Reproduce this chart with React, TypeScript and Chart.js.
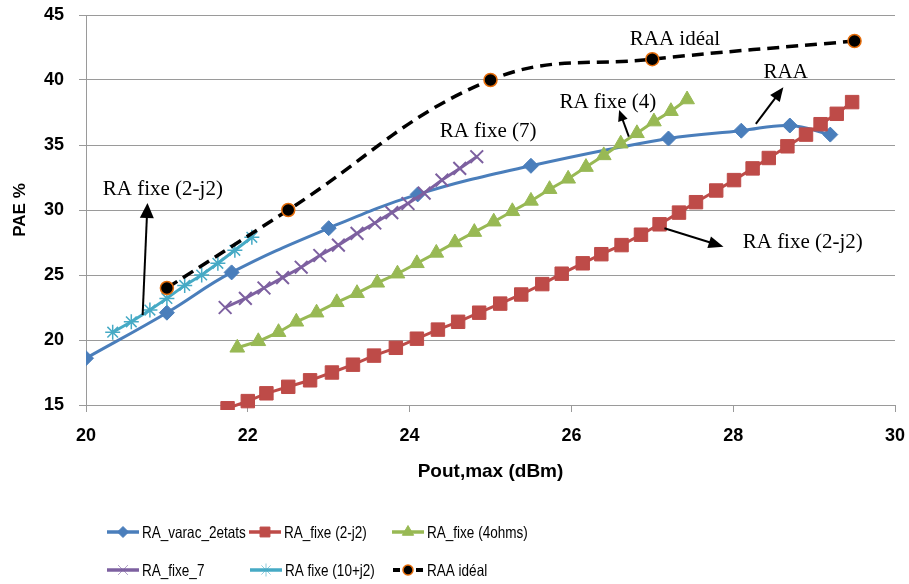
import React, { useEffect, useRef } from 'react';
import { Chart, registerables } from 'chart.js';
import { drawPoint } from 'chart.js/helpers';
Chart.register(...registerables);

// ---------- data ----------
const varacX = [20, 21, 21.8, 23, 24.1, 25.5, 27.2, 28.1, 28.7, 29.2];
const varacY = [18.6, 22.1, 25.2, 28.6, 31.2, 33.4, 35.5, 36.1, 36.5, 35.8];

const fixe2j2X = [21.75, 22.0, 22.23, 22.5, 22.77, 23.04, 23.3, 23.56, 23.83, 24.09, 24.35, 24.6, 24.86, 25.12, 25.38, 25.64, 25.88, 26.14, 26.37, 26.62, 26.86, 27.09, 27.33, 27.54, 27.79, 28.01, 28.24, 28.44, 28.67, 28.9, 29.08, 29.28, 29.47];
const fixe2j2Y = [14.75, 15.3, 15.9, 16.4, 16.9, 17.5, 18.1, 18.8, 19.4, 20.1, 20.8, 21.4, 22.1, 22.8, 23.5, 24.3, 25.1, 25.9, 26.6, 27.3, 28.1, 28.9, 29.8, 30.6, 31.5, 32.3, 33.2, 34.0, 34.9, 35.8, 36.6, 37.4, 38.3];

const fixe4X = [21.87, 22.13, 22.38, 22.6, 22.85, 23.1, 23.35, 23.6, 23.85, 24.09, 24.33, 24.56, 24.8, 25.04, 25.27, 25.5, 25.73, 25.96, 26.18, 26.4, 26.61, 26.81, 27.02, 27.23, 27.43];
const fixe4Y = [19.4, 19.9, 20.6, 21.4, 22.1, 22.9, 23.6, 24.4, 25.1, 25.9, 26.7, 27.5, 28.3, 29.1, 29.9, 30.7, 31.6, 32.4, 33.3, 34.2, 35.1, 35.9, 36.8, 37.6, 38.5];

const fixe7X = [21.72, 21.97, 22.2, 22.43, 22.66, 22.89, 23.12, 23.35, 23.57, 23.78, 23.98, 24.18, 24.4, 24.62, 24.83];
const fixe7Y = [22.5, 23.2, 24.0, 24.8, 25.6, 26.5, 27.3, 28.2, 29.0, 29.8, 30.5, 31.3, 32.3, 33.2, 34.1];

const fixe10X = [20.33, 20.56, 20.79, 21.0, 21.22, 21.43, 21.63, 21.84, 22.05];
const fixe10Y = [20.6, 21.4, 22.3, 23.2, 24.2, 25.0, 25.9, 26.9, 27.9];

const idealX = [21, 22.5, 25, 27, 29.5];
const idealY = [24.0, 30.0, 40.0, 41.6, 43.0];

const seriesLabels = ['RA_varac_2etats', 'RA_fixe (2-j2)', 'RA_fixe (4ohms)', 'RA_fixe_7', 'RA fixe (10+j2)', 'RAA idéal'];

const xTicksMin = 20, xTicksMax = 30, xStep = 2;
const yTicksMin = 15, yTicksMax = 45, yStep = 5;
const xTitle = 'Pout,max (dBm)';
const yTitle = 'PAE %';

// annotations (data coordinates)
const noteTexts = ['RAA idéal', 'RAA', 'RA fixe (4)', 'RA fixe (7)', 'RA fixe (2-j2)', 'RA fixe (2-j2)'];
const noteX = [27.28, 28.65, 26.45, 24.97, 20.95, 28.86];
const noteY = [42.69, 40.15, 37.85, 35.6, 31.15, 27.08];
const arrowFromX = [20.70, 26.71, 28.28, 27.15];
const arrowFromY = [21.92, 35.64, 36.62, 28.59];
const arrowToX = [20.76, 26.59, 28.62, 27.88];
const arrowToY = [30.54, 37.69, 39.44, 27.18];

// ---------- styles ----------
const BLUE = '#4A7EBB';
const RED = '#BE4B48';
const GREEN = '#98B954';
const PURPLE = '#7D60A0';
const CYAN = '#46AAC5';
const BLACK = '#000000';
const ORANGE = '#E46C0A';
const GRID = '#9A9A9A';
const HEAD_LEN = [15, 11, 14, 15];
const HEAD_W = [14, 10, 12, 12];

const legendPos = [
  { x: 107, y: 532 }, { x: 249, y: 532 }, { x: 392, y: 532 },
  { x: 107, y: 570 }, { x: 250, y: 570 }, { x: 392, y: 570 },
];
const legendMarkerR = [5.5, 7, 6.5, 7, 6.5, 5];

const mk = (xs: number[], ys: number[]) => xs.map((x, i) => ({ x, y: ys[i] }));

const overlayPlugin = {
  id: 'overlay',
  afterDatasetsDraw(chart: any) {
    const ctx = chart.ctx as CanvasRenderingContext2D;
    const xs = chart.scales.x;
    const ys = chart.scales.y;
    ctx.save();
    ctx.fillStyle = '#000';
    ctx.font = '21px "Liberation Serif", "Times New Roman", serif';
    ctx.textAlign = 'center';
    ctx.textBaseline = 'alphabetic';
    noteTexts.forEach((t, i) => {
      ctx.fillText(t, xs.getPixelForValue(noteX[i]), ys.getPixelForValue(noteY[i]));
    });
    arrowFromX.forEach((_, i) => {
      const x1 = xs.getPixelForValue(arrowFromX[i]);
      const y1 = ys.getPixelForValue(arrowFromY[i]);
      const x2 = xs.getPixelForValue(arrowToX[i]);
      const y2 = ys.getPixelForValue(arrowToY[i]);
      const ang = Math.atan2(y2 - y1, x2 - x1);
      const hl = HEAD_LEN[i];
      const hw = HEAD_W[i] / 2;
      const bx = x2 - Math.cos(ang) * hl;
      const by = y2 - Math.sin(ang) * hl;
      ctx.strokeStyle = '#000';
      ctx.lineWidth = 2;
      ctx.beginPath();
      ctx.moveTo(x1, y1);
      ctx.lineTo(bx + Math.cos(ang) * 2, by + Math.sin(ang) * 2);
      ctx.stroke();
      ctx.beginPath();
      ctx.moveTo(x2, y2);
      ctx.lineTo(bx + Math.sin(ang) * hw, by - Math.cos(ang) * hw);
      ctx.lineTo(bx - Math.sin(ang) * hw, by + Math.cos(ang) * hw);
      ctx.closePath();
      ctx.fillStyle = '#000';
      ctx.fill();
    });
    ctx.restore();
  },
  afterDraw(chart: any) {
    const ctx = chart.ctx as CanvasRenderingContext2D;
    ctx.save();
    chart.data.datasets.forEach((ds: any, i: number) => {
      const p = legendPos[i];
      const x1 = p.x, x2 = p.x + 32, y = p.y;
      ctx.save();
      ctx.strokeStyle = ds.borderColor;
      ctx.lineWidth = ds.borderWidth + 0.5;
      ctx.beginPath();
      if (ds.borderDash) {
        ctx.moveTo(x1 + 1, y); ctx.lineTo(x1 + 8, y);
        ctx.moveTo(x2 - 8, y); ctx.lineTo(x2 - 1, y);
      } else {
        ctx.moveTo(x1, y); ctx.lineTo(x2, y);
      }
      ctx.stroke();
      ctx.restore();
      ctx.save();
      ctx.fillStyle = ds.pointBackgroundColor || ds.backgroundColor;
      ctx.strokeStyle = ds.pointBorderColor || ds.borderColor;
      const isLine = ds.pointStyle === 'crossRot' || ds.pointStyle === 'star';
      ctx.lineWidth = isLine ? 1 : ds.pointBorderWidth;
      if (isLine) ctx.strokeStyle = ds.borderColor + '99';
      drawPoint(ctx, { pointStyle: ds.pointStyle, radius: legendMarkerR[i], borderWidth: ctx.lineWidth, rotation: 0 } as any, (x1 + x2) / 2, y);
      ctx.restore();
      ctx.save();
      ctx.fillStyle = '#000';
      ctx.font = '16.5px "Liberation Sans", Arial, sans-serif';
      ctx.textAlign = 'left';
      ctx.textBaseline = 'middle';
      ctx.translate(x2 + 3, y + 1);
      ctx.scale(0.82, 1);
      ctx.fillText(ds.label, 0, 0);
      ctx.restore();
    });
    ctx.restore();
  },
};

export default function App() {
  const ref = useRef<HTMLCanvasElement>(null);
  useEffect(() => {
    document.body.style.margin = '0';
    const canvas = ref.current!;
    const chart = new Chart(canvas, {
      type: 'line',
      data: {
        datasets: [
          {
            label: seriesLabels[0], data: mk(varacX, varacY),
            borderColor: BLUE, backgroundColor: BLUE, borderWidth: 3,
            pointStyle: 'rectRot', pointRadius: 7.5, pointBorderWidth: 1,
            pointBackgroundColor: BLUE, pointBorderColor: BLUE,
            tension: 0.4, order: 6,
          },
          {
            label: seriesLabels[1], data: mk(fixe2j2X, fixe2j2Y),
            borderColor: RED, backgroundColor: RED, borderWidth: 3,
            pointStyle: 'rect', pointRadius: 9.5, pointBorderWidth: 1,
            pointBackgroundColor: RED, pointBorderColor: RED,
            tension: 0, order: 5,
            clip: { left: 10, right: 10, top: 10, bottom: 5 },
          },
          {
            label: seriesLabels[2], data: mk(fixe4X, fixe4Y),
            borderColor: GREEN, backgroundColor: GREEN, borderWidth: 3,
            pointStyle: 'triangle', pointRadius: 8.5, pointBorderWidth: 1,
            pointBackgroundColor: GREEN, pointBorderColor: GREEN,
            tension: 0, order: 4,
          },
          {
            label: seriesLabels[3], data: mk(fixe7X, fixe7Y),
            borderColor: PURPLE, backgroundColor: PURPLE, borderWidth: 3,
            pointStyle: 'crossRot', pointRadius: 9, pointBorderWidth: 2,
            pointBackgroundColor: PURPLE, pointBorderColor: PURPLE,
            tension: 0, order: 3,
          },
          {
            label: seriesLabels[4], data: mk(fixe10X, fixe10Y),
            borderColor: CYAN, backgroundColor: CYAN, borderWidth: 3,
            pointStyle: 'star', pointRadius: 7.5, pointBorderWidth: 1.5,
            pointBackgroundColor: CYAN, pointBorderColor: CYAN,
            tension: 0, order: 2,
          },
          {
            label: seriesLabels[5], data: mk(idealX, idealY),
            borderColor: BLACK, backgroundColor: BLACK, borderWidth: 3.5,
            borderDash: [12, 7],
            pointStyle: 'circle', pointRadius: 6.5, pointBorderWidth: 1.5,
            pointBackgroundColor: BLACK, pointBorderColor: ORANGE,
            tension: 0.4, order: 1,
          },
        ] as any,
      },
      options: {
        responsive: false,
        animation: false,
        events: [],
        layout: { padding: { left: 0, right: 14, top: 15, bottom: 99 } },
        plugins: { legend: { display: false }, tooltip: { enabled: false } },
        scales: {
          x: {
            type: 'linear', min: xTicksMin, max: xTicksMax,
            ticks: {
              stepSize: xStep, color: '#000', padding: 13,
              font: { family: '"Liberation Sans", Arial, sans-serif', size: 18, weight: 'bold' },
            },
            grid: { drawOnChartArea: false, drawTicks: true, tickLength: 7, color: GRID },
            border: { display: true, color: GRID },
            title: {
              display: true, text: xTitle, color: '#000',
              font: { family: '"Liberation Sans", Arial, sans-serif', size: 19, weight: 'bold' },
              padding: { top: 0, bottom: 2 },
            },
            afterFit: (s: any) => { s.height = 80; s.paddingLeft = 0; s.paddingRight = 0; },
          },
          y: {
            type: 'linear', min: yTicksMin, max: yTicksMax,
            ticks: {
              stepSize: yStep, color: '#000', padding: 15,
              font: { family: '"Liberation Sans", Arial, sans-serif', size: 18, weight: 'bold' },
            },
            grid: { drawTicks: true, tickLength: 7, color: GRID },
            border: { display: true, color: GRID },
            title: {
              display: true, text: yTitle, color: '#000',
              font: { family: '"Liberation Sans", Arial, sans-serif', size: 17, weight: 'bold' },
              padding: { top: 10, bottom: 0 },
            },
            afterFit: (s: any) => { s.width = 86; s.paddingTop = 0; s.paddingBottom = 0; },
          },
        },
      } as any,
      plugins: [overlayPlugin],
    });
    return () => chart.destroy();
  }, []);
  return (
    <div style={{ width: 909, height: 584 }}>
      <canvas ref={ref} width={909} height={584} style={{ display: 'block' }} />
    </div>
  );
}
